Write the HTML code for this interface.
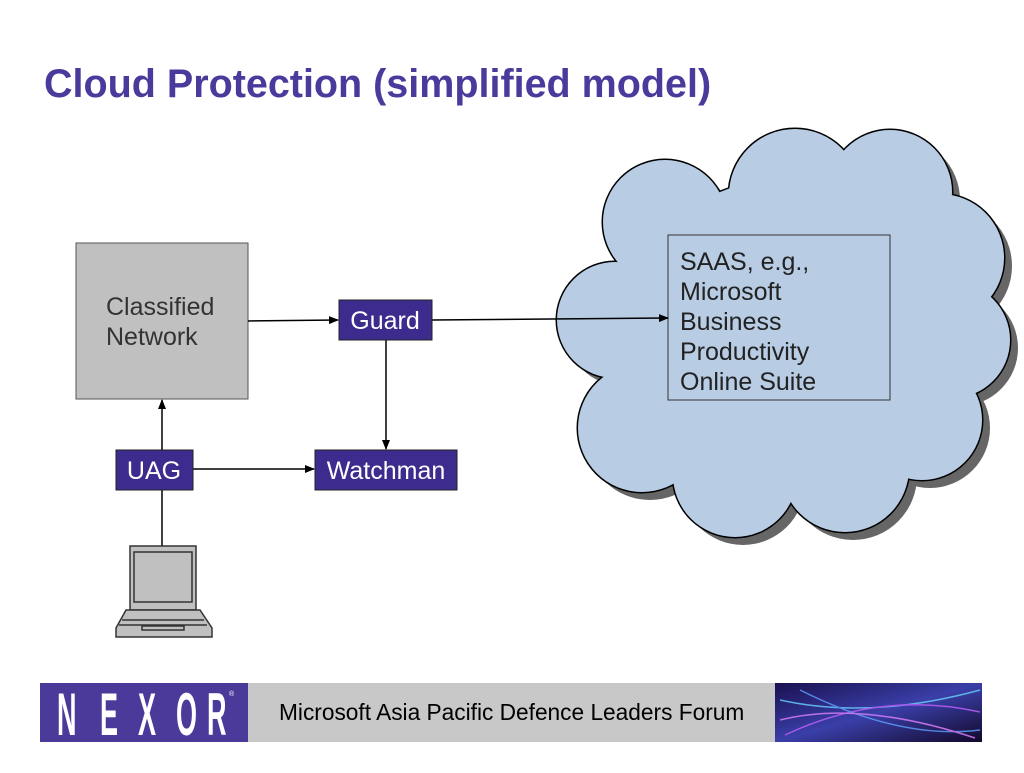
<!DOCTYPE html>
<html><head><style>
body{margin:0;background:#fff;width:1024px;height:768px;overflow:hidden;font-family:"Liberation Sans",sans-serif}
</style></head><body>
<svg width="1024" height="768" xmlns="http://www.w3.org/2000/svg" font-family="Liberation Sans, sans-serif">
<defs>
<marker id="a" markerWidth="10" markerHeight="8" refX="9" refY="4" orient="auto" markerUnits="userSpaceOnUse"><path d="M0,0 L10,4 L0,8z" fill="#000"/></marker>
<linearGradient id="g" x1="0" y1="0" x2="1" y2="1"><stop offset="0" stop-color="#1a1050"/><stop offset="0.5" stop-color="#3a3fa8"/><stop offset="1" stop-color="#12082a"/></linearGradient>
<g id="cl">
<circle cx="665" cy="222" r="62"/><circle cx="795" cy="195" r="66"/><circle cx="890" cy="192" r="62"/>
<circle cx="940" cy="258" r="64"/><circle cx="952" cy="340" r="58"/><circle cx="922" cy="420" r="60"/>
<circle cx="845" cy="468" r="64"/><circle cx="735" cy="475" r="62"/><circle cx="642" cy="428" r="64"/>
<circle cx="615" cy="320" r="58"/><circle cx="780" cy="335" r="155"/>
</g>
</defs>
<text x="44" y="97" font-size="39.5" font-weight="bold" fill="#4a3a9c">Cloud Protection (simplified model)</text>
<use href="#cl" fill="#666" transform="translate(8,8)"/>
<use href="#cl" fill="#b8cce4" stroke="#000" stroke-width="3"/>
<use href="#cl" fill="#b8cce4"/>
<rect x="668" y="235" width="222" height="165" fill="none" stroke="#333" stroke-width="1"/>
<g font-size="25" fill="#222"><text x="680" y="270">SAAS, e.g.,</text><text x="680" y="300">Microsoft</text><text x="680" y="330">Business</text><text x="680" y="360">Productivity</text><text x="680" y="390">Online Suite</text></g>
<rect x="76" y="243" width="172" height="156" fill="#c0c0c0" stroke="#555"/>
<text x="106" y="315" font-size="25" fill="#333">Classified</text><text x="106" y="345" font-size="25" fill="#333">Network</text>
<g stroke="#000" stroke-width="1.5" fill="none">
<line x1="248" y1="321" x2="338" y2="320" marker-end="url(#a)"/>
<line x1="432" y1="320" x2="668" y2="318" marker-end="url(#a)"/>
<line x1="386" y1="340" x2="386" y2="449" marker-end="url(#a)"/>
<line x1="193" y1="469" x2="314" y2="469" marker-end="url(#a)"/>
<line x1="162" y1="450" x2="162" y2="400" marker-end="url(#a)"/>
<line x1="162" y1="490" x2="162" y2="546"/>
</g>
<rect x="339" y="300" width="93" height="40" fill="#3d2c8d" stroke="#222"/><text x="385" y="329" font-size="25" fill="#fff" text-anchor="middle">Guard</text>
<rect x="315" y="450" width="142" height="40" fill="#3d2c8d" stroke="#222"/><text x="386" y="479" font-size="25" fill="#fff" text-anchor="middle">Watchman</text>
<rect x="116" y="450" width="77" height="40" fill="#3d2c8d" stroke="#222"/><text x="154" y="479" font-size="25" fill="#fff" text-anchor="middle">UAG</text>
<g stroke="#333" stroke-width="1.5" fill="#c0c0c0">
<rect x="130" y="546" width="66" height="64"/><rect x="134" y="552" width="58" height="50"/>
<path d="M126,610 L200,610 L212,628 L212,637 L116,637 L116,628 Z"/>
<line x1="122" y1="620" x2="204" y2="620"/><line x1="119" y1="625" x2="207" y2="625"/>
<rect x="142" y="626" width="42" height="4"/>
</g>
<rect x="40" y="683" width="208" height="59" fill="#4b3a9a"/>
<g fill="#fff" font-size="60" font-weight="bold">
<text transform="translate(57,735) scale(0.45,1)">N</text>
<text transform="translate(100,735) scale(0.45,1)">E</text>
<text transform="translate(138,735) scale(0.45,1)">X</text>
<text transform="translate(176,735) scale(0.45,1)">O</text>
<text transform="translate(207,735) scale(0.45,1)">R</text>
</g>
<text x="229" y="696" font-size="7" fill="#fff">®</text>
<rect x="248" y="683" width="527" height="59" fill="#c8c8c8"/>
<text x="279" y="720" font-size="22.7" fill="#000">Microsoft Asia Pacific Defence Leaders Forum</text>
<rect x="775" y="683" width="207" height="59" fill="url(#g)"/>
<g stroke-width="1.5" fill="none" opacity="0.8">
<path d="M780,700 Q870,720 980,690" stroke="#6ad0ff"/><path d="M785,735 Q880,690 980,712" stroke="#c060ff"/>
<path d="M800,690 Q900,740 980,730" stroke="#60a0ff"/><path d="M780,720 Q860,700 975,738" stroke="#e080ff"/>
</g>
</svg>
</body></html>
